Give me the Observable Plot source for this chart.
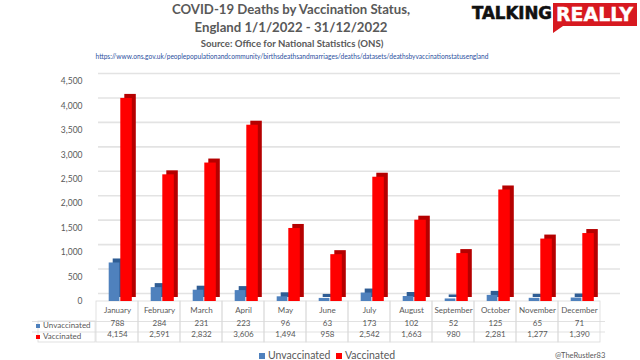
<!DOCTYPE html>
<html>
<head>
<meta charset="utf-8">
<script src="https://cdn.jsdelivr.net/npm/d3@7"></script>
<script src="https://cdn.jsdelivr.net/npm/@observablehq/plot@0.6"></script>
<style>
  html, body { margin: 0; padding: 0; background: #fff; }
  #wrap { position: relative; width: 640px; height: 360px; overflow: hidden; font-family: Lato, "Open Sans", sans-serif; color: #595959; }
  #wrap > svg { display: block; position: absolute; left: 0; top: 0; }
  .abs { position: absolute; white-space: nowrap; }
  .t1, .t2 { font-weight: bold; font-size: 13.2px; line-height: 1; width: 640px; left: -29px; text-align: center; }
  .src { font-weight: bold; font-size: 9.6px; line-height: 1; width: 640px; left: -28px; text-align: center; }
  .url { font-size: 6.6px; line-height: 1; color: #2b4f9e; width: 640px; left: -28px; text-align: center; }
  .sw { display: inline-block; width: 6px; height: 6px; margin-right: 3px; vertical-align: 0px; }
  .rowlab { font-size: 8px; line-height: 1; }
  .leg { font-size: 10.5px; line-height: 1; }
  .cred { font-size: 7.5px; line-height: 1; }
  #logo { left: 0; top: 0; }
</style>
</head>
<body>
<div id="wrap"></div>
<script>
// ---- data ----
const months = ["January","February","March","April","May","June","July","August","September","October","November","December"];
const unvaccinated = [788, 284, 231, 223, 96, 63, 173, 102, 52, 125, 65, 71];
const vaccinated = [4154, 2591, 2832, 3606, 1494, 958, 2542, 1663, 980, 2281, 1277, 1390];
const seriesNames = ["Unvaccinated", "Vaccinated"];
const seriesColors = ["#4f81bd", "#ff0000"];
const seriesShade = ["#2f5d94", "#b50000"];
const yTicks = [0, 500, 1000, 1500, 2000, 2500, 3000, 3500, 4000, 4500];
const titleLines = ["COVID-19 Deaths by Vaccination Status,", "England 1/1/2022 - 31/12/2022"];
const sourceText = "Source: Office for National Statistics (ONS)";
const urlText = "https://www.ons.gov.uk/peoplepopulationandcommunity/birthsdeathsandmarriages/deaths/datasets/deathsbyvaccinationstatusengland";
const creditText = "@TheRustler83";
const logoWords = ["TALKING", "REALLY"];

const rows = months.map((m, i) => ({month: m, unvacc: unvaccinated[i], vacc: vaccinated[i]}));
const fmt = d3.format(",");
const grid = "#d9d9d9";
const bw = (640 - 90 - 35) / months.length;

const chart = Plot.plot({
  width: 640,
  height: 360,
  marginLeft: 90,
  marginRight: 35,
  marginTop: 81,
  marginBottom: 59,
  style: {fontFamily: "Lato, 'Open Sans', sans-serif", fontSize: "8.5px", color: "#595959", background: "transparent", overflow: "visible"},
  x: {domain: months, axis: null, padding: 0},
  y: {domain: [0, 4500], ticks: yTicks, tickFormat: fmt, tickSize: 0, tickPadding: 8, label: null},
  marks: [
    // back-wall gridlines
    Plot.ruleY(yTicks, {y: d => d, dx: 8, dy: -8, insetRight: -7, stroke: "#e3e3e3", strokeWidth: 1.6}),
    // table cells (month columns)
    Plot.barY(months, {x: d => d, y1: () => 0, y2: () => 0, insetTop: 0, insetBottom: -41, fill: "none", stroke: grid, strokeWidth: 0.8}),
    // row-label cells
    Plot.barY([months[0]], {x: d => d, y1: () => 0, y2: () => 0, insetTop: 20, insetBottom: -41, insetLeft: -58, insetRight: bw, fill: "none", stroke: grid, strokeWidth: 0.8}),
    Plot.ruleY([0], {y: d => d, dy: 20, insetLeft: -58, stroke: grid, strokeWidth: 0.8}),
    Plot.ruleY([0], {y: d => d, dy: 30.5, insetLeft: -58, stroke: grid, strokeWidth: 0.8}),
    // 3D bars: unvaccinated
    Plot.barY(rows, {x: "month", y: "unvacc", insetLeft: 12.7, insetRight: 18.6, dx: 4, dy: -4, fill: seriesShade[0]}),
    Plot.barY(rows, {x: "month", y: "unvacc", insetLeft: 12.7, insetRight: 18.6, fill: seriesColors[0]}),
    // 3D bars: vaccinated
    Plot.barY(rows, {x: "month", y: "vacc", insetLeft: 24.3, insetRight: 6.2, dx: 4, dy: -4, fill: seriesShade[1]}),
    Plot.barY(rows, {x: "month", y: "vacc", insetLeft: 24.3, insetRight: 6.2, fill: seriesColors[1]}),
    // table text
    Plot.text(months, {x: d => d, text: d => d, frameAnchor: "bottom", dy: 11, fontSize: 8, fill: "#595959"}),
    Plot.text(rows, {x: "month", text: d => fmt(d.unvacc), frameAnchor: "bottom", dy: 24.5, fontSize: 8, fill: "#595959"}),
    Plot.text(rows, {x: "month", text: d => fmt(d.vacc), frameAnchor: "bottom", dy: 35.5, fontSize: 8, fill: "#595959"})
  ]
});

const wrap = document.getElementById("wrap");
wrap.appendChild(chart);

function addDiv(cls, html, left, top, id) {
  const d = document.createElement("div");
  d.className = "abs " + cls;
  if (id) d.id = id;
  d.innerHTML = html;
  if (left !== null) d.style.left = left + "px";
  if (top !== null) d.style.top = top + "px";
  wrap.appendChild(d);
  return d;
}
addDiv("t1", titleLines[0], null, 3);
addDiv("t2", titleLines[1], null, 21);
addDiv("src", sourceText, null, 39);
addDiv("url", urlText, null, 53);

// row labels of data table
addDiv("rowlab", `<span class="sw" style="background:${seriesColors[0]};width:4px;height:4px"></span>${seriesNames[0]}`, 36, 321);
addDiv("rowlab", `<span class="sw" style="background:${seriesColors[1]};width:4px;height:4px"></span>${seriesNames[1]}`, 36, 332);

// legend
addDiv("leg", `<span class="sw" style="background:${seriesColors[0]}"></span>${seriesNames[0]}`, 259, 350);
addDiv("leg", `<span class="sw" style="background:${seriesColors[1]}"></span>${seriesNames[1]}`, 336, 350);
addDiv("cred", creditText, 555, 352);

// logo (decoration)
addDiv("", `<svg width="640" height="40" style="display:block">
  <path d="M553,3 H637 V26 H563 L553,33 Z" fill="#d71920"/>
  <text x="472" y="19" textLength="80" lengthAdjust="spacingAndGlyphs" font-family="'DejaVu Sans'" font-weight="bold" font-size="17" fill="#111" stroke="#111" stroke-width="0.6">${logoWords[0]}</text>
  <text x="556" y="21" textLength="77" lengthAdjust="spacingAndGlyphs" font-family="'DejaVu Sans'" font-weight="bold" font-size="19" fill="#fff" stroke="#fff" stroke-width="0.4">${logoWords[1]}</text>
</svg>`, 0, 0, "logo");
</script>
</body>
</html>
